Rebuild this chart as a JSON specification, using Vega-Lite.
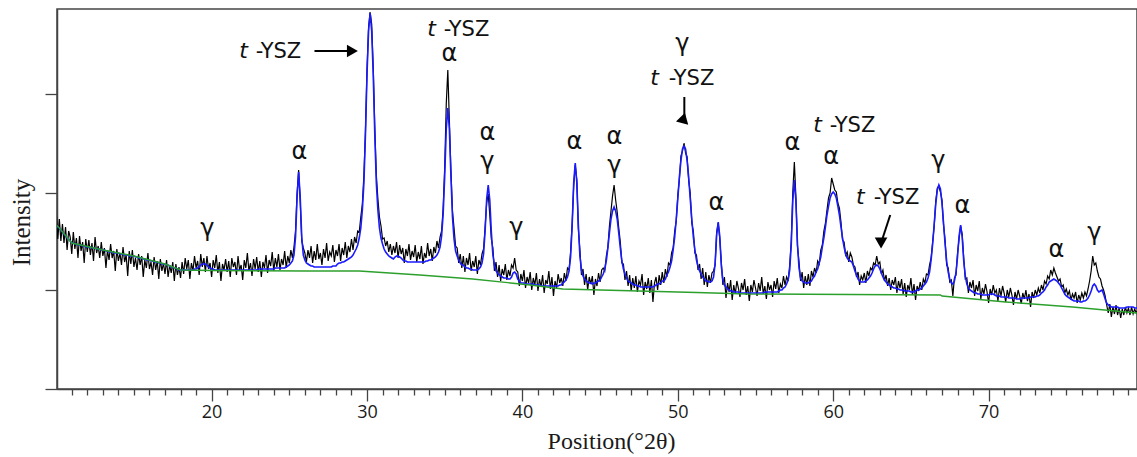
{
"$schema":"https://vega.github.io/schema/vega-lite/v6.json",
"width":1080,"height":380,
"autosize":{"type":"none"},
"padding":{"left":57,"top":9,"right":0,"bottom":68},
"background":"white",
"config":{"view":{"stroke":"#444","strokeWidth":1.5}},
"datasets":{
"xrd":[
{"t":10.0,"o":178,"f":164},{"t":10.1,"o":150,"f":162},{"t":10.2,"o":170,"f":161},{"t":10.3,"o":148,"f":159},{"t":10.4,"o":165,"f":157},{"t":10.5,"o":146,"f":155},{"t":10.6,"o":162,"f":153},{"t":10.7,"o":139,"f":151},{"t":10.8,"o":158,"f":150},{"t":10.9,"o":152,"f":148},
{"t":11.0,"o":135,"f":146},{"t":11.1,"o":157,"f":146},{"t":11.2,"o":140,"f":145},{"t":11.3,"o":151,"f":145},{"t":11.4,"o":131,"f":144},{"t":11.5,"o":153,"f":144},{"t":11.6,"o":138,"f":144},{"t":11.7,"o":147,"f":143},{"t":11.8,"o":126,"f":143},{"t":11.9,"o":150,"f":142},
{"t":12.0,"o":137,"f":142},{"t":12.1,"o":149,"f":142},{"t":12.2,"o":134,"f":142},{"t":12.3,"o":146,"f":141},{"t":12.4,"o":128,"f":141},{"t":12.5,"o":152,"f":141},{"t":12.6,"o":136,"f":140},{"t":12.7,"o":143,"f":140},{"t":12.8,"o":131,"f":140},{"t":12.9,"o":147,"f":139},
{"t":13.0,"o":133,"f":139},{"t":13.1,"o":141,"f":139},{"t":13.2,"o":121,"f":138},{"t":13.3,"o":139,"f":138},{"t":13.4,"o":129,"f":137},{"t":13.5,"o":145,"f":137},{"t":13.6,"o":131,"f":137},{"t":13.7,"o":138,"f":136},{"t":13.8,"o":118,"f":136},{"t":13.9,"o":140,"f":136},
{"t":14.0,"o":128,"f":136},{"t":14.1,"o":136,"f":135},{"t":14.2,"o":124,"f":135},{"t":14.3,"o":142,"f":135},{"t":14.4,"o":127,"f":134},{"t":14.5,"o":134,"f":134},{"t":14.6,"o":113,"f":134},{"t":14.7,"o":138,"f":133},{"t":14.8,"o":125,"f":133},{"t":14.9,"o":139,"f":133},
{"t":15.0,"o":122,"f":133},{"t":15.1,"o":131,"f":132},{"t":15.2,"o":119,"f":132},{"t":15.3,"o":135,"f":131},{"t":15.4,"o":124,"f":131},{"t":15.5,"o":133,"f":131},{"t":15.6,"o":112,"f":130},{"t":15.7,"o":129,"f":130},{"t":15.8,"o":121,"f":129},{"t":15.9,"o":136,"f":129},
{"t":16.0,"o":120,"f":129},{"t":16.1,"o":127,"f":128},{"t":16.2,"o":114,"f":128},{"t":16.3,"o":132,"f":127},{"t":16.4,"o":119,"f":127},{"t":16.5,"o":128,"f":127},{"t":16.6,"o":110,"f":126},{"t":16.7,"o":130,"f":126},{"t":16.8,"o":118,"f":125},{"t":16.9,"o":126,"f":125},
{"t":17.0,"o":115,"f":125},{"t":17.1,"o":129,"f":124},{"t":17.2,"o":112,"f":124},{"t":17.3,"o":124,"f":123},{"t":17.4,"o":116,"f":122},{"t":17.5,"o":127,"f":122},{"t":17.6,"o":108,"f":121},{"t":17.7,"o":125,"f":121},{"t":17.8,"o":114,"f":120},{"t":17.9,"o":122,"f":119},
{"t":18.0,"o":111,"f":119},{"t":18.1,"o":127,"f":119},{"t":18.2,"o":115,"f":119},{"t":18.3,"o":131,"f":119},{"t":18.4,"o":120,"f":119},{"t":18.5,"o":129,"f":119},{"t":18.6,"o":110,"f":119},{"t":18.7,"o":126,"f":119},{"t":18.8,"o":118,"f":119},{"t":18.9,"o":133,"f":120},
{"t":19.0,"o":121,"f":120},{"t":19.1,"o":128,"f":121},{"t":19.2,"o":114,"f":122},{"t":19.3,"o":135,"f":124},{"t":19.4,"o":122,"f":125},{"t":19.5,"o":131,"f":125},{"t":19.6,"o":117,"f":125},{"t":19.7,"o":133,"f":124},{"t":19.8,"o":120,"f":122},{"t":19.9,"o":126,"f":121},
{"t":20.0,"o":112,"f":120},{"t":20.1,"o":129,"f":120},{"t":20.2,"o":121,"f":119},{"t":20.3,"o":134,"f":119},{"t":20.4,"o":116,"f":119},{"t":20.5,"o":127,"f":119},{"t":20.6,"o":108,"f":119},{"t":20.7,"o":125,"f":119},{"t":20.8,"o":119,"f":119},{"t":20.9,"o":130,"f":119},
{"t":21.0,"o":117,"f":119},{"t":21.1,"o":128,"f":119},{"t":21.2,"o":112,"f":119},{"t":21.3,"o":131,"f":119},{"t":21.4,"o":122,"f":119},{"t":21.5,"o":127,"f":119},{"t":21.6,"o":114,"f":119},{"t":21.7,"o":133,"f":119},{"t":21.8,"o":119,"f":119},{"t":21.9,"o":124,"f":119},
{"t":22.0,"o":109,"f":119},{"t":22.1,"o":129,"f":119},{"t":22.2,"o":121,"f":119},{"t":22.3,"o":136,"f":119},{"t":22.4,"o":118,"f":119},{"t":22.5,"o":126,"f":119},{"t":22.6,"o":113,"f":119},{"t":22.7,"o":130,"f":119},{"t":22.8,"o":120,"f":119},{"t":22.9,"o":132,"f":119},
{"t":23.0,"o":117,"f":120},{"t":23.1,"o":128,"f":120},{"t":23.2,"o":112,"f":120},{"t":23.3,"o":127,"f":120},{"t":23.4,"o":121,"f":120},{"t":23.5,"o":134,"f":120},{"t":23.6,"o":116,"f":120},{"t":23.7,"o":129,"f":120},{"t":23.8,"o":123,"f":120},{"t":23.9,"o":137,"f":120},
{"t":24.0,"o":118,"f":120},{"t":24.1,"o":131,"f":121},{"t":24.2,"o":122,"f":121},{"t":24.3,"o":135,"f":121},{"t":24.4,"o":119,"f":121},{"t":24.5,"o":130,"f":121},{"t":24.6,"o":124,"f":121},{"t":24.7,"o":138,"f":121},{"t":24.8,"o":121,"f":122},{"t":24.9,"o":133,"f":123},
{"t":25.0,"o":126,"f":124},{"t":25.1,"o":139,"f":126},{"t":25.2,"o":131,"f":128},{"t":25.3,"o":142,"f":134},{"t":25.4,"o":158,"f":152},{"t":25.5,"o":196,"f":192},{"t":25.6,"o":219,"f":217},{"t":25.7,"o":188,"f":192},{"t":25.8,"o":148,"f":152},{"t":25.9,"o":141,"f":134},
{"t":26.0,"o":136,"f":129},{"t":26.1,"o":127,"f":126},{"t":26.2,"o":139,"f":125},{"t":26.3,"o":131,"f":124},{"t":26.4,"o":143,"f":123},{"t":26.5,"o":126,"f":123},{"t":26.6,"o":138,"f":122},{"t":26.7,"o":129,"f":122},{"t":26.8,"o":145,"f":122},{"t":26.9,"o":130,"f":122},
{"t":27.0,"o":136,"f":122},{"t":27.1,"o":124,"f":122},{"t":27.2,"o":140,"f":122},{"t":27.3,"o":131,"f":122},{"t":27.4,"o":146,"f":122},{"t":27.5,"o":128,"f":122},{"t":27.6,"o":137,"f":122},{"t":27.7,"o":133,"f":122},{"t":27.8,"o":144,"f":123},{"t":27.9,"o":127,"f":123},
{"t":28.0,"o":139,"f":123},{"t":28.1,"o":133,"f":125},{"t":28.2,"o":145,"f":126},{"t":28.3,"o":128,"f":126},{"t":28.4,"o":141,"f":127},{"t":28.5,"o":134,"f":127},{"t":28.6,"o":147,"f":128},{"t":28.7,"o":131,"f":129},{"t":28.8,"o":143,"f":130},{"t":28.9,"o":137,"f":131},
{"t":29.0,"o":150,"f":132},{"t":29.1,"o":139,"f":134},{"t":29.2,"o":152,"f":137},{"t":29.3,"o":146,"f":140},{"t":29.4,"o":158,"f":144},{"t":29.5,"o":157,"f":151},{"t":29.6,"o":172,"f":161},{"t":29.7,"o":185,"f":179},{"t":29.8,"o":214,"f":206},{"t":29.9,"o":258,"f":255},
{"t":30.0,"o":320,"f":315},{"t":30.1,"o":362,"f":358},{"t":30.2,"o":377,"f":376},{"t":30.3,"o":365,"f":358},{"t":30.4,"o":322,"f":315},{"t":30.5,"o":262,"f":255},{"t":30.6,"o":214,"f":206},{"t":30.7,"o":190,"f":179},{"t":30.8,"o":172,"f":161},{"t":30.9,"o":163,"f":151},
{"t":31.0,"o":150,"f":145},{"t":31.1,"o":151,"f":140},{"t":31.2,"o":143,"f":137},{"t":31.3,"o":148,"f":135},{"t":31.4,"o":137,"f":133},{"t":31.5,"o":145,"f":132},{"t":31.6,"o":134,"f":131},{"t":31.7,"o":143,"f":130},{"t":31.8,"o":136,"f":132},{"t":31.9,"o":147,"f":133},
{"t":32.0,"o":131,"f":133},{"t":32.1,"o":144,"f":132},{"t":32.2,"o":135,"f":131},{"t":32.3,"o":141,"f":129},{"t":32.4,"o":126,"f":128},{"t":32.5,"o":140,"f":128},{"t":32.6,"o":133,"f":127},{"t":32.7,"o":145,"f":127},{"t":32.8,"o":129,"f":127},{"t":32.9,"o":138,"f":127},
{"t":33.0,"o":132,"f":127},{"t":33.1,"o":144,"f":127},{"t":33.2,"o":127,"f":127},{"t":33.3,"o":137,"f":127},{"t":33.4,"o":130,"f":127},{"t":33.5,"o":143,"f":127},{"t":33.6,"o":125,"f":127},{"t":33.7,"o":136,"f":127},{"t":33.8,"o":131,"f":128},{"t":33.9,"o":146,"f":128},
{"t":34.0,"o":133,"f":129},{"t":34.1,"o":140,"f":129},{"t":34.2,"o":128,"f":130},{"t":34.3,"o":142,"f":131},{"t":34.4,"o":136,"f":132},{"t":34.5,"o":148,"f":134},{"t":34.6,"o":141,"f":137},{"t":34.7,"o":152,"f":142},{"t":34.8,"o":158,"f":153},{"t":34.9,"o":181,"f":175},
{"t":35.0,"o":222,"f":213},{"t":35.1,"o":285,"f":260},{"t":35.2,"o":319,"f":281},{"t":35.3,"o":268,"f":260},{"t":35.4,"o":219,"f":213},{"t":35.5,"o":178,"f":172},{"t":35.6,"o":161,"f":150},{"t":35.7,"o":143,"f":138},{"t":35.8,"o":141,"f":133},{"t":35.9,"o":126,"f":129},
{"t":36.0,"o":135,"f":126},{"t":36.1,"o":121,"f":124},{"t":36.2,"o":133,"f":124},{"t":36.3,"o":117,"f":122},{"t":36.4,"o":131,"f":121},{"t":36.5,"o":124,"f":121},{"t":36.6,"o":136,"f":120},{"t":36.7,"o":118,"f":120},{"t":36.8,"o":128,"f":119},{"t":36.9,"o":122,"f":119},
{"t":37.0,"o":133,"f":119},{"t":37.1,"o":115,"f":119},{"t":37.2,"o":129,"f":120},{"t":37.3,"o":124,"f":122},{"t":37.4,"o":135,"f":126},{"t":37.5,"o":140,"f":135},{"t":37.6,"o":162,"f":158},{"t":37.7,"o":186,"f":190},{"t":37.8,"o":195,"f":204},{"t":37.9,"o":174,"f":189},
{"t":38.0,"o":150,"f":157},{"t":38.1,"o":141,"f":134},{"t":38.2,"o":118,"f":124},{"t":38.3,"o":127,"f":118},{"t":38.4,"o":112,"f":116},{"t":38.5,"o":124,"f":114},{"t":38.6,"o":108,"f":113},{"t":38.7,"o":120,"f":112},{"t":38.8,"o":114,"f":111},{"t":38.9,"o":125,"f":111},
{"t":39.0,"o":109,"f":111},{"t":39.1,"o":119,"f":110},{"t":39.2,"o":113,"f":110},{"t":39.3,"o":124,"f":112},{"t":39.4,"o":121,"f":116},{"t":39.5,"o":131,"f":117},{"t":39.6,"o":119,"f":115},{"t":39.7,"o":117,"f":110},{"t":39.8,"o":103,"f":108},{"t":39.9,"o":115,"f":106},
{"t":40.0,"o":108,"f":106},{"t":40.1,"o":119,"f":106},{"t":40.2,"o":101,"f":105},{"t":40.3,"o":112,"f":105},{"t":40.4,"o":106,"f":105},{"t":40.5,"o":117,"f":105},{"t":40.6,"o":99,"f":105},{"t":40.7,"o":111,"f":105},{"t":40.8,"o":104,"f":104},{"t":40.9,"o":116,"f":104},
{"t":41.0,"o":98,"f":104},{"t":41.1,"o":110,"f":104},{"t":41.2,"o":102,"f":103},{"t":41.3,"o":114,"f":103},{"t":41.4,"o":96,"f":103},{"t":41.5,"o":109,"f":103},{"t":41.6,"o":105,"f":103},{"t":41.7,"o":118,"f":103},{"t":41.8,"o":100,"f":103},{"t":41.9,"o":112,"f":103},
{"t":42.0,"o":93,"f":103},{"t":42.1,"o":108,"f":103},{"t":42.2,"o":101,"f":103},{"t":42.3,"o":115,"f":103},{"t":42.4,"o":106,"f":104},{"t":42.5,"o":111,"f":104},{"t":42.6,"o":103,"f":106},{"t":42.7,"o":116,"f":107},{"t":42.8,"o":108,"f":109},{"t":42.9,"o":121,"f":112},
{"t":43.0,"o":119,"f":118},{"t":43.1,"o":137,"f":132},{"t":43.2,"o":165,"f":163},{"t":43.3,"o":203,"f":206},{"t":43.4,"o":224,"f":226},{"t":43.5,"o":209,"f":207},{"t":43.6,"o":160,"f":164},{"t":43.7,"o":139,"f":133},{"t":43.8,"o":114,"f":119},{"t":43.9,"o":120,"f":113},
{"t":44.0,"o":104,"f":110},{"t":44.1,"o":115,"f":108},{"t":44.2,"o":99,"f":107},{"t":44.3,"o":112,"f":106},{"t":44.4,"o":105,"f":106},{"t":44.5,"o":113,"f":105},{"t":44.6,"o":94,"f":106},{"t":44.7,"o":110,"f":106},{"t":44.8,"o":103,"f":107},{"t":44.9,"o":116,"f":108},
{"t":45.0,"o":107,"f":109},{"t":45.1,"o":119,"f":112},{"t":45.2,"o":121,"f":115},{"t":45.3,"o":118,"f":120},{"t":45.4,"o":133,"f":128},{"t":45.5,"o":142,"f":141},{"t":45.6,"o":163,"f":156},{"t":45.7,"o":178,"f":170},{"t":45.8,"o":193,"f":178},{"t":45.9,"o":204,"f":182},
{"t":46.0,"o":189,"f":178},{"t":46.1,"o":177,"f":170},{"t":46.2,"o":161,"f":156},{"t":46.3,"o":147,"f":141},{"t":46.4,"o":126,"f":128},{"t":46.5,"o":125,"f":120},{"t":46.6,"o":109,"f":115},{"t":46.7,"o":118,"f":111},{"t":46.8,"o":103,"f":108},{"t":46.9,"o":114,"f":107},
{"t":47.0,"o":98,"f":106},{"t":47.1,"o":111,"f":105},{"t":47.2,"o":101,"f":104},{"t":47.3,"o":113,"f":104},{"t":47.4,"o":97,"f":103},{"t":47.5,"o":108,"f":103},{"t":47.6,"o":104,"f":102},{"t":47.7,"o":115,"f":102},{"t":47.8,"o":94,"f":102},{"t":47.9,"o":107,"f":102},
{"t":48.0,"o":100,"f":102},{"t":48.1,"o":111,"f":102},{"t":48.2,"o":96,"f":102},{"t":48.3,"o":109,"f":102},{"t":48.4,"o":87,"f":102},{"t":48.5,"o":106,"f":103},{"t":48.6,"o":112,"f":104},{"t":48.7,"o":99,"f":105},{"t":48.8,"o":114,"f":105},{"t":48.9,"o":104,"f":106},
{"t":49.0,"o":117,"f":108},{"t":49.1,"o":106,"f":108},{"t":49.2,"o":120,"f":110},{"t":49.3,"o":112,"f":114},{"t":49.4,"o":126,"f":117},{"t":49.5,"o":124,"f":122},{"t":49.6,"o":136,"f":128},{"t":49.7,"o":141,"f":139},{"t":49.8,"o":158,"f":152},{"t":49.9,"o":168,"f":170},
{"t":50.0,"o":194,"f":190},{"t":50.1,"o":209,"f":212},{"t":50.2,"o":233,"f":228},{"t":50.3,"o":238,"f":240},{"t":50.4,"o":246,"f":243},{"t":50.5,"o":236,"f":240},{"t":50.6,"o":232,"f":228},{"t":50.7,"o":208,"f":212},{"t":50.8,"o":196,"f":190},{"t":50.9,"o":166,"f":170},
{"t":51.0,"o":158,"f":152},{"t":51.1,"o":136,"f":139},{"t":51.2,"o":134,"f":129},{"t":51.3,"o":119,"f":123},{"t":51.4,"o":125,"f":118},{"t":51.5,"o":110,"f":115},{"t":51.6,"o":121,"f":112},{"t":51.7,"o":104,"f":110},{"t":51.8,"o":117,"f":108},{"t":51.9,"o":102,"f":108},
{"t":52.0,"o":114,"f":107},{"t":52.1,"o":106,"f":107},{"t":52.2,"o":116,"f":108},{"t":52.3,"o":118,"f":112},{"t":52.4,"o":124,"f":125},{"t":52.5,"o":157,"f":154},{"t":52.6,"o":166,"f":167},{"t":52.7,"o":150,"f":153},{"t":52.8,"o":127,"f":123},{"t":52.9,"o":104,"f":109},
{"t":53.0,"o":112,"f":104},{"t":53.1,"o":91,"f":102},{"t":53.2,"o":106,"f":100},{"t":53.3,"o":97,"f":99},{"t":53.4,"o":109,"f":98},{"t":53.5,"o":89,"f":98},{"t":53.6,"o":104,"f":97},{"t":53.7,"o":95,"f":97},{"t":53.8,"o":108,"f":97},{"t":53.9,"o":101,"f":97},
{"t":54.0,"o":92,"f":96},{"t":54.1,"o":106,"f":96},{"t":54.2,"o":99,"f":96},{"t":54.3,"o":110,"f":96},{"t":54.4,"o":94,"f":96},{"t":54.5,"o":103,"f":96},{"t":54.6,"o":88,"f":96},{"t":54.7,"o":104,"f":96},{"t":54.8,"o":97,"f":96},{"t":54.9,"o":109,"f":96},
{"t":55.0,"o":101,"f":96},{"t":55.1,"o":93,"f":96},{"t":55.2,"o":106,"f":96},{"t":55.3,"o":98,"f":96},{"t":55.4,"o":112,"f":96},{"t":55.5,"o":95,"f":96},{"t":55.6,"o":103,"f":97},{"t":55.7,"o":90,"f":97},{"t":55.8,"o":107,"f":97},{"t":55.9,"o":99,"f":97},
{"t":56.0,"o":104,"f":97},{"t":56.1,"o":92,"f":97},{"t":56.2,"o":108,"f":97},{"t":56.3,"o":100,"f":97},{"t":56.4,"o":111,"f":97},{"t":56.5,"o":96,"f":98},{"t":56.6,"o":105,"f":99},{"t":56.7,"o":101,"f":99},{"t":56.8,"o":113,"f":101},{"t":56.9,"o":104,"f":102},
{"t":57.0,"o":112,"f":105},{"t":57.1,"o":108,"f":109},{"t":57.2,"o":124,"f":119},{"t":57.3,"o":148,"f":144},{"t":57.4,"o":197,"f":188},{"t":57.5,"o":227,"f":209},{"t":57.6,"o":192,"f":188},{"t":57.7,"o":143,"f":145},{"t":57.8,"o":127,"f":121},{"t":57.9,"o":108,"f":111},
{"t":58.0,"o":117,"f":108},{"t":58.1,"o":101,"f":107},{"t":58.2,"o":113,"f":106},{"t":58.3,"o":104,"f":106},{"t":58.4,"o":115,"f":106},{"t":58.5,"o":103,"f":107},{"t":58.6,"o":118,"f":108},{"t":58.7,"o":112,"f":111},{"t":58.8,"o":121,"f":113},{"t":58.9,"o":116,"f":117},
{"t":59.0,"o":128,"f":120},{"t":59.1,"o":125,"f":126},{"t":59.2,"o":139,"f":132},{"t":59.3,"o":144,"f":142},{"t":59.4,"o":158,"f":151},{"t":59.5,"o":166,"f":162},{"t":59.6,"o":179,"f":174},{"t":59.7,"o":191,"f":183},{"t":59.8,"o":196,"f":191},{"t":59.9,"o":211,"f":195},
{"t":60.0,"o":205,"f":197},{"t":60.1,"o":199,"f":195},{"t":60.2,"o":197,"f":191},{"t":60.3,"o":186,"f":183},{"t":60.4,"o":181,"f":174},{"t":60.5,"o":167,"f":162},{"t":60.6,"o":149,"f":151},{"t":60.7,"o":147,"f":142},{"t":60.8,"o":134,"f":135},{"t":60.9,"o":137,"f":131},
{"t":61.0,"o":127,"f":129},{"t":61.1,"o":136,"f":128},{"t":61.2,"o":132,"f":127},{"t":61.3,"o":124,"f":123},{"t":61.4,"o":122,"f":118},{"t":61.5,"o":112,"f":114},{"t":61.6,"o":117,"f":110},{"t":61.7,"o":104,"f":108},{"t":61.8,"o":113,"f":107},{"t":61.9,"o":109,"f":107},
{"t":62.0,"o":116,"f":107},{"t":62.1,"o":106,"f":108},{"t":62.2,"o":118,"f":109},{"t":62.3,"o":113,"f":111},{"t":62.4,"o":121,"f":113},{"t":62.5,"o":119,"f":116},{"t":62.6,"o":126,"f":120},{"t":62.7,"o":124,"f":123},{"t":62.8,"o":133,"f":124},{"t":62.9,"o":125,"f":123},
{"t":63.0,"o":127,"f":120},{"t":63.1,"o":115,"f":116},{"t":63.2,"o":119,"f":112},{"t":63.3,"o":108,"f":109},{"t":63.4,"o":114,"f":107},{"t":63.5,"o":103,"f":105},{"t":63.6,"o":111,"f":104},{"t":63.7,"o":99,"f":103},{"t":63.8,"o":109,"f":102},{"t":63.9,"o":104,"f":101},
{"t":64.0,"o":112,"f":101},{"t":64.1,"o":96,"f":100},{"t":64.2,"o":108,"f":100},{"t":64.3,"o":101,"f":99},{"t":64.4,"o":110,"f":99},{"t":64.5,"o":95,"f":99},{"t":64.6,"o":106,"f":98},{"t":64.7,"o":92,"f":98},{"t":64.8,"o":104,"f":98},{"t":64.9,"o":99,"f":98},
{"t":65.0,"o":111,"f":97},{"t":65.1,"o":94,"f":97},{"t":65.2,"o":105,"f":97},{"t":65.3,"o":89,"f":98},{"t":65.4,"o":103,"f":99},{"t":65.5,"o":98,"f":99},{"t":65.6,"o":107,"f":100},{"t":65.7,"o":99,"f":101},{"t":65.8,"o":110,"f":103},{"t":65.9,"o":106,"f":105},
{"t":66.0,"o":115,"f":107},{"t":66.1,"o":114,"f":111},{"t":66.2,"o":124,"f":117},{"t":66.3,"o":131,"f":129},{"t":66.4,"o":147,"f":145},{"t":66.5,"o":163,"f":165},{"t":66.6,"o":188,"f":185},{"t":66.7,"o":201,"f":199},{"t":66.8,"o":203,"f":204},{"t":66.9,"o":197,"f":200},
{"t":67.0,"o":189,"f":186},{"t":67.1,"o":164,"f":166},{"t":67.2,"o":149,"f":145},{"t":67.3,"o":124,"f":128},{"t":67.4,"o":121,"f":117},{"t":67.5,"o":107,"f":110},{"t":67.6,"o":109,"f":106},{"t":67.7,"o":93,"f":105},{"t":67.8,"o":111,"f":108},{"t":67.9,"o":114,"f":116},
{"t":68.0,"o":136,"f":132},{"t":68.1,"o":150,"f":153},{"t":68.2,"o":163,"f":164},{"t":68.3,"o":155,"f":152},{"t":68.4,"o":131,"f":128},{"t":68.5,"o":110,"f":113},{"t":68.6,"o":111,"f":105},{"t":68.7,"o":96,"f":101},{"t":68.8,"o":107,"f":99},{"t":68.9,"o":101,"f":98},
{"t":69.0,"o":109,"f":97},{"t":69.1,"o":93,"f":96},{"t":69.2,"o":104,"f":96},{"t":69.3,"o":98,"f":95},{"t":69.4,"o":108,"f":95},{"t":69.5,"o":90,"f":95},{"t":69.6,"o":101,"f":94},{"t":69.7,"o":95,"f":94},{"t":69.8,"o":105,"f":94},{"t":69.9,"o":97,"f":94},
{"t":70.0,"o":86,"f":94},{"t":70.1,"o":100,"f":95},{"t":70.2,"o":94,"f":95},{"t":70.3,"o":104,"f":95},{"t":70.4,"o":96,"f":94},{"t":70.5,"o":99,"f":93},{"t":70.6,"o":88,"f":93},{"t":70.7,"o":101,"f":93},{"t":70.8,"o":93,"f":92},{"t":70.9,"o":103,"f":92},
{"t":71.0,"o":96,"f":92},{"t":71.1,"o":87,"f":92},{"t":71.2,"o":99,"f":92},{"t":71.3,"o":92,"f":91},{"t":71.4,"o":101,"f":91},{"t":71.5,"o":94,"f":91},{"t":71.6,"o":84,"f":91},{"t":71.7,"o":97,"f":91},{"t":71.8,"o":90,"f":90},{"t":71.9,"o":99,"f":90},
{"t":72.0,"o":93,"f":90},{"t":72.1,"o":85,"f":91},{"t":72.2,"o":96,"f":91},{"t":72.3,"o":90,"f":91},{"t":72.4,"o":99,"f":91},{"t":72.5,"o":88,"f":91},{"t":72.6,"o":95,"f":91},{"t":72.7,"o":82,"f":92},{"t":72.8,"o":97,"f":92},{"t":72.9,"o":91,"f":92},
{"t":73.0,"o":99,"f":92},{"t":73.1,"o":94,"f":93},{"t":73.2,"o":101,"f":93},{"t":73.3,"o":96,"f":94},{"t":73.4,"o":104,"f":96},{"t":73.5,"o":99,"f":97},{"t":73.6,"o":108,"f":99},{"t":73.7,"o":105,"f":102},{"t":73.8,"o":113,"f":104},{"t":73.9,"o":110,"f":107},
{"t":74.0,"o":119,"f":108},{"t":74.1,"o":114,"f":109},{"t":74.2,"o":121,"f":110},{"t":74.3,"o":116,"f":109},{"t":74.4,"o":112,"f":108},{"t":74.5,"o":108,"f":106},{"t":74.6,"o":110,"f":104},{"t":74.7,"o":102,"f":101},{"t":74.8,"o":104,"f":98},{"t":74.9,"o":96,"f":95},
{"t":75.0,"o":100,"f":93},{"t":75.1,"o":94,"f":92},{"t":75.2,"o":98,"f":91},{"t":75.3,"o":89,"f":90},{"t":75.4,"o":95,"f":89},{"t":75.5,"o":91,"f":88},{"t":75.6,"o":97,"f":88},{"t":75.7,"o":86,"f":88},{"t":75.8,"o":94,"f":88},{"t":75.9,"o":89,"f":87},
{"t":76.0,"o":96,"f":87},{"t":76.1,"o":91,"f":88},{"t":76.2,"o":97,"f":88},{"t":76.3,"o":93,"f":89},{"t":76.4,"o":100,"f":91},{"t":76.5,"o":108,"f":94},{"t":76.6,"o":118,"f":98},{"t":76.7,"o":133,"f":103},{"t":76.8,"o":124,"f":105},{"t":76.9,"o":126,"f":103},
{"t":77.0,"o":118,"f":99},{"t":77.1,"o":112,"f":97},{"t":77.2,"o":110,"f":98},{"t":77.3,"o":103,"f":99},{"t":77.4,"o":99,"f":95},{"t":77.5,"o":93,"f":90},{"t":77.6,"o":84,"f":86},{"t":77.7,"o":76,"f":84},{"t":77.8,"o":85,"f":83},{"t":77.9,"o":72,"f":82},
{"t":78.0,"o":82,"f":82},{"t":78.1,"o":75,"f":82},{"t":78.2,"o":84,"f":82},{"t":78.3,"o":74,"f":82},{"t":78.4,"o":81,"f":81},{"t":78.5,"o":71,"f":81},{"t":78.6,"o":80,"f":81},{"t":78.7,"o":74,"f":81},{"t":78.8,"o":82,"f":81},{"t":78.9,"o":76,"f":82},
{"t":79.0,"o":81,"f":82},{"t":79.1,"o":74,"f":82},{"t":79.2,"o":82,"f":82},{"t":79.3,"o":75,"f":82},{"t":79.4,"o":80,"f":81},{"t":79.5,"o":76,"f":81},{"t":79.6,"o":79,"f":81}
],
"bg":[
{"t":10.0,"b":164},{"t":10.2,"b":161},{"t":11.0,"b":146},{"t":13.0,"b":139},{"t":15.0,"b":133},{"t":17.0,"b":125},{"t":18.0,"b":119},{"t":20.0,"b":118.5},{"t":26.0,"b":118},{"t":29.5,"b":118},{"t":33.4,"b":114},{"t":36.8,"b":110},{"t":40.5,"b":104},{"t":42.6,"b":100},{"t":47.5,"b":98},{"t":51.2,"b":96.5},{"t":54.5,"b":95},{"t":66.9,"b":94},{"t":67.0,"b":93},{"t":71.1,"b":87},{"t":75.4,"b":82},{"t":79.6,"b":76}
],
"greek":[
{"t":25.65,"h":230,"s":"α"},{"t":19.73,"h":153,"s":"γ"},{"t":35.3,"h":328,"s":"α"},{"t":37.75,"h":249,"s":"α"},{"t":37.75,"h":220,"s":"γ"},{"t":39.61,"h":154,"s":"γ"},{"t":43.35,"h":240,"s":"α"},{"t":45.92,"h":245,"s":"α"},{"t":45.92,"h":216,"s":"γ"},{"t":50.29,"h":338,"s":"γ"},{"t":52.48,"h":179,"s":"α"},{"t":57.37,"h":239,"s":"α"},{"t":59.87,"h":225,"s":"α"},{"t":66.77,"h":221,"s":"γ"},{"t":68.31,"h":176,"s":"α"},{"t":74.36,"h":132,"s":"α"},{"t":76.81,"h":149,"s":"γ"}
],
"tlet":[
{"t":22.05,"h":331},{"t":34.15,"h":353},{"t":48.5,"h":304},{"t":59.0,"h":257},{"t":61.75,"h":185}
],
"ysz":[
{"t":24.3,"h":331},{"t":36.4,"h":353},{"t":50.88,"h":304},{"t":61.24,"h":257},{"t":64.07,"h":185}
],
"arrows":[
{"id":"a1","t":26.62,"h":338,"t2":29.06,"h2":338},
{"id":"a2","t":50.42,"h":292,"t2":50.42,"h2":268},
{"id":"a3","t":63.67,"h":174,"t2":63.08,"h2":146}
]
},
"layer":[
{"data":{"name":"xrd"},
 "mark":{"type":"line","color":"#000000","strokeWidth":1.2,"clip":true},
 "encoding":{
  "x":{"field":"t","type":"quantitative","scale":{"domain":[10.05,79.55],"nice":false,"zero":false},
   "axis":{"values":[11,12,13,14,15,16,17,18,19,20,21,22,23,24,25,26,27,28,29,30,31,32,33,34,35,36,37,38,39,40,41,42,43,44,45,46,47,48,49,50,51,52,53,54,55,56,57,58,59,60,61,62,63,64,65,66,67,68,69,70,71,72,73,74,75,76,77,78,79],
    "tickCount":200,
    "labelExpr":"datum.value % 10 === 0 ? '' + datum.value : ''",
    "labelOverlap":false,"labelFlush":false,
    "tickSize":{"condition":{"test":"datum.value % 10 === 0","value":12},"value":6},
    "labelPadding":2,"labelFont":"Open Sans","labelFontSize":18,"labelColor":"#1a1a1a",
    "tickColor":"#444","tickWidth":1.3,"domainColor":"#444","domainWidth":1.5,"grid":false,
    "title":"Position(°2θ)","titleFont":"Liberation Serif","titleFontSize":24,"titleFontWeight":"normal","titleColor":"#1a1a1a",
    "titleX":554,"titleY":59,"titleBaseline":"alphabetic","titleAlign":"center"}},
  "y":{"field":"o","type":"quantitative","scale":{"domain":[0,380],"nice":false,"zero":false},
   "axis":{"values":[0,99,196,295],"tickCount":20,"labels":false,"tickSize":12,"tickColor":"#444","tickWidth":1.3,"domainColor":"#444","domainWidth":1.5,"grid":false,
    "title":"Intensity","titleFont":"Liberation Serif","titleFontSize":25,"titleFontWeight":"normal","titleColor":"#1a1a1a",
    "titleAngle":270,"titleBaseline":"bottom","titleAlign":"center","titleX":-23,"titleY":213}}
 }},
{"data":{"name":"xrd"},
 "mark":{"type":"line","color":"#1a1aff","strokeWidth":1.6,"clip":true},
 "encoding":{"x":{"field":"t","type":"quantitative"},"y":{"field":"f","type":"quantitative"}}},
{"data":{"name":"bg"},
 "mark":{"type":"line","color":"#2ca02c","strokeWidth":1.4,"clip":true},
 "encoding":{"x":{"field":"t","type":"quantitative"},"y":{"field":"b","type":"quantitative"}}},
{"data":{"name":"greek"},
 "mark":{"type":"text","font":"DejaVu Sans","fontSize":24,"align":"center","baseline":"alphabetic","color":"#111"},
 "encoding":{"x":{"field":"t","type":"quantitative"},"y":{"field":"h","type":"quantitative"},"text":{"field":"s"}}},
{"data":{"name":"tlet"},
 "mark":{"type":"text","text":"t","font":"DejaVu Sans","fontSize":22,"fontStyle":"italic","align":"center","baseline":"alphabetic","color":"#111"},
 "encoding":{"x":{"field":"t","type":"quantitative"},"y":{"field":"h","type":"quantitative"}}},
{"data":{"name":"ysz"},
 "mark":{"type":"text","text":"-YSZ","font":"DejaVu Sans","fontSize":21,"align":"center","baseline":"alphabetic","color":"#111"},
 "encoding":{"x":{"field":"t","type":"quantitative"},"y":{"field":"h","type":"quantitative"}}},
{"data":{"name":"arrows"},
 "mark":{"type":"rule","color":"#000","strokeWidth":2},
 "encoding":{"x":{"field":"t","type":"quantitative"},"y":{"field":"h","type":"quantitative"},"x2":{"field":"t2"},"y2":{"field":"h2"}}},
{"data":{"name":"arrows"},
 "mark":{"type":"point","shape":"triangle-up","filled":true,"color":"#000","size":160,"opacity":1},
 "encoding":{"x":{"field":"t2","type":"quantitative"},"y":{"field":"h2","type":"quantitative"},
  "angle":{"field":"id","type":"nominal","scale":{"domain":["a1","a2","a3"],"range":[90,180,198]},"legend":null}}}
]
}
